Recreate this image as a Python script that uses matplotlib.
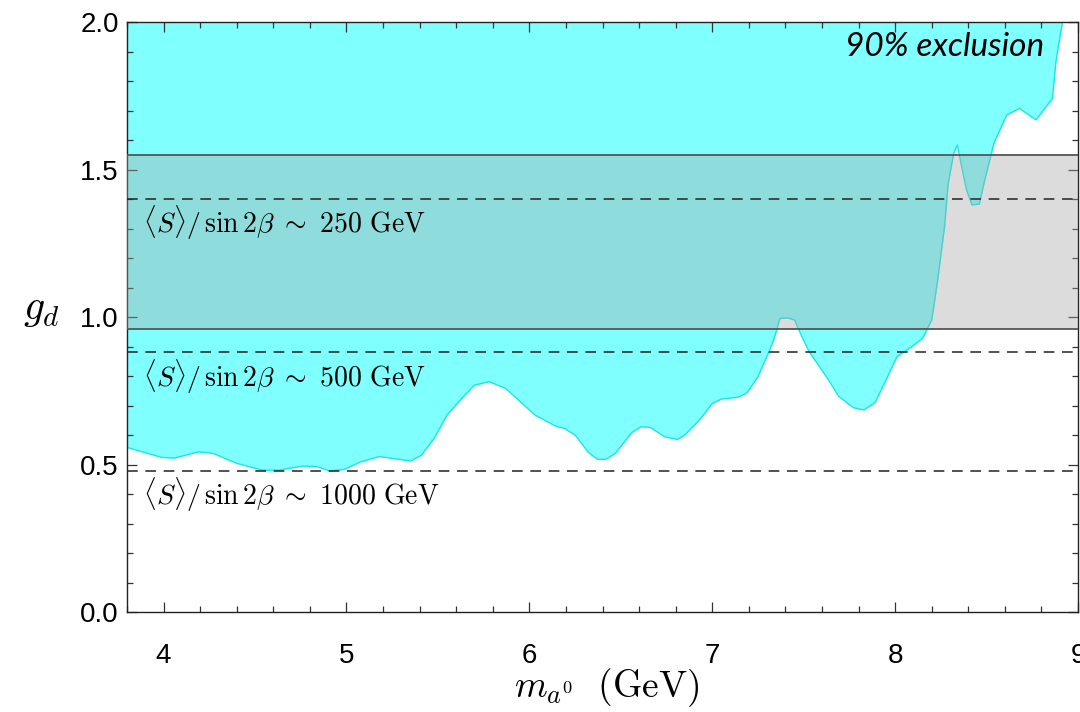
import matplotlib
matplotlib.use("Agg")
import matplotlib.pyplot as plt
from matplotlib.ticker import MultipleLocator

plt.rcParams['mathtext.fontset'] = 'cm'
plt.rcParams['font.family'] = ['Liberation Sans', 'DejaVu Sans']

# exclusion boundary (lower edge of the excluded region)
mass = [3.80, 3.99, 4.06, 4.19, 4.27, 4.40, 4.54, 4.63, 4.76, 4.84, 4.91, 4.99,
        5.08, 5.18, 5.25, 5.35, 5.41, 5.48, 5.55, 5.63, 5.70, 5.78, 5.87, 5.95,
        6.03, 6.07, 6.14, 6.19, 6.25, 6.32, 6.37, 6.42, 6.47, 6.56, 6.61, 6.66,
        6.74, 6.81, 6.85, 6.93, 7.00, 7.05, 7.14, 7.19, 7.25, 7.31, 7.34, 7.37,
        7.41, 7.45, 7.49, 7.53, 7.63, 7.69, 7.77, 7.83, 7.89, 7.95, 8.01, 8.09,
        8.15, 8.20, 8.23, 8.27, 8.29, 8.32, 8.34, 8.36, 8.39, 8.42, 8.46, 8.49,
        8.54, 8.61, 8.68, 8.77, 8.86, 8.88, 8.915]
g_limit = [0.558, 0.524, 0.522, 0.543, 0.538, 0.504, 0.481, 0.481, 0.495, 0.493, 0.478, 0.484,
           0.510, 0.527, 0.521, 0.512, 0.532, 0.589, 0.668, 0.724, 0.769, 0.781, 0.758, 0.713,
           0.668, 0.655, 0.631, 0.623, 0.600, 0.543, 0.518, 0.518, 0.538, 0.608, 0.628, 0.626,
           0.594, 0.585, 0.600, 0.651, 0.707, 0.722, 0.728, 0.743, 0.798, 0.882, 0.930, 0.995,
           0.997, 0.990, 0.933, 0.882, 0.792, 0.732, 0.693, 0.685, 0.710, 0.786, 0.866, 0.899,
           0.928, 0.990, 1.114, 1.306, 1.453, 1.555, 1.583, 1.521, 1.431, 1.380, 1.383, 1.464,
           1.589, 1.685, 1.707, 1.668, 1.741, 1.871, 2.0]

band_low, band_high = 0.959, 1.549
dashed_levels = [1.40, 0.881, 0.478]
dashed_labels = [r'$\langle S\rangle/\,\sin 2\beta\ \sim\ 250\ \mathrm{GeV}$',
                 r'$\langle S\rangle/\,\sin 2\beta\ \sim\ 500\ \mathrm{GeV}$',
                 r'$\langle S\rangle/\,\sin 2\beta\ \sim\ 1000\ \mathrm{GeV}$']
label_y = [1.319, 0.797, 0.397]

fig = plt.figure(figsize=(10.8, 7.12), dpi=100)
ax = fig.add_axes([0.1176, 0.1404, 0.8806, 0.8287])
ax.set_xlim(3.8, 9.0)
ax.set_ylim(0.0, 2.0)

ax.fill_between(mass, g_limit, 2.0, color='#80ffff', lw=0, zorder=1)
ax.plot(mass, g_limit, color='#19e6e6', lw=1.0, zorder=2)

ax.axhspan(band_low, band_high, color=(166/255, 166/255, 166/255), alpha=0.39, lw=0, zorder=3)
for yb in (band_low, band_high):
    ax.axhline(yb, color='#555555', lw=1.3, zorder=4)

for lv, lab, ly in zip(dashed_levels, dashed_labels, label_y):
    ax.axhline(lv, color='#222222', lw=1.1, ls=(0, (7, 5)), zorder=4)
    ax.text(3.885, ly, lab, fontsize=20, va='center', ha='left', zorder=5)

ax.text(0.964, 0.958, '90% exclusion', transform=ax.transAxes, fontsize=24,
        style='italic', family='Lato', ha='right', va='center', zorder=6)

ax.xaxis.set_major_locator(MultipleLocator(1))
ax.xaxis.set_minor_locator(MultipleLocator(0.2))
ax.yaxis.set_major_locator(MultipleLocator(0.5))
ax.yaxis.set_minor_locator(MultipleLocator(0.1))
ax.yaxis.set_major_formatter(matplotlib.ticker.FormatStrFormatter('%.1f'))
ax.tick_params(which='both', direction='in', top=True, right=True, labelsize=20,
               color='#333333', width=0.9)
ax.tick_params(which='major', length=7)
ax.tick_params(which='minor', length=4)
ax.tick_params(axis='x', pad=22)
ax.tick_params(axis='y', pad=6)
for sp in ax.spines.values():
    sp.set_linewidth(1.0)
    sp.set_color('#222222')

fig.text(0.562, 0.034, r'$m_{a^0}\ \ (\mathrm{GeV})$', fontsize=27, ha='center', va='center')
ax.set_ylabel(r'$g_d$', fontsize=30, rotation=0, labelpad=30)
ax.yaxis.set_label_coords(-0.09, 0.48)

fig.savefig('out.png', dpi=100)
